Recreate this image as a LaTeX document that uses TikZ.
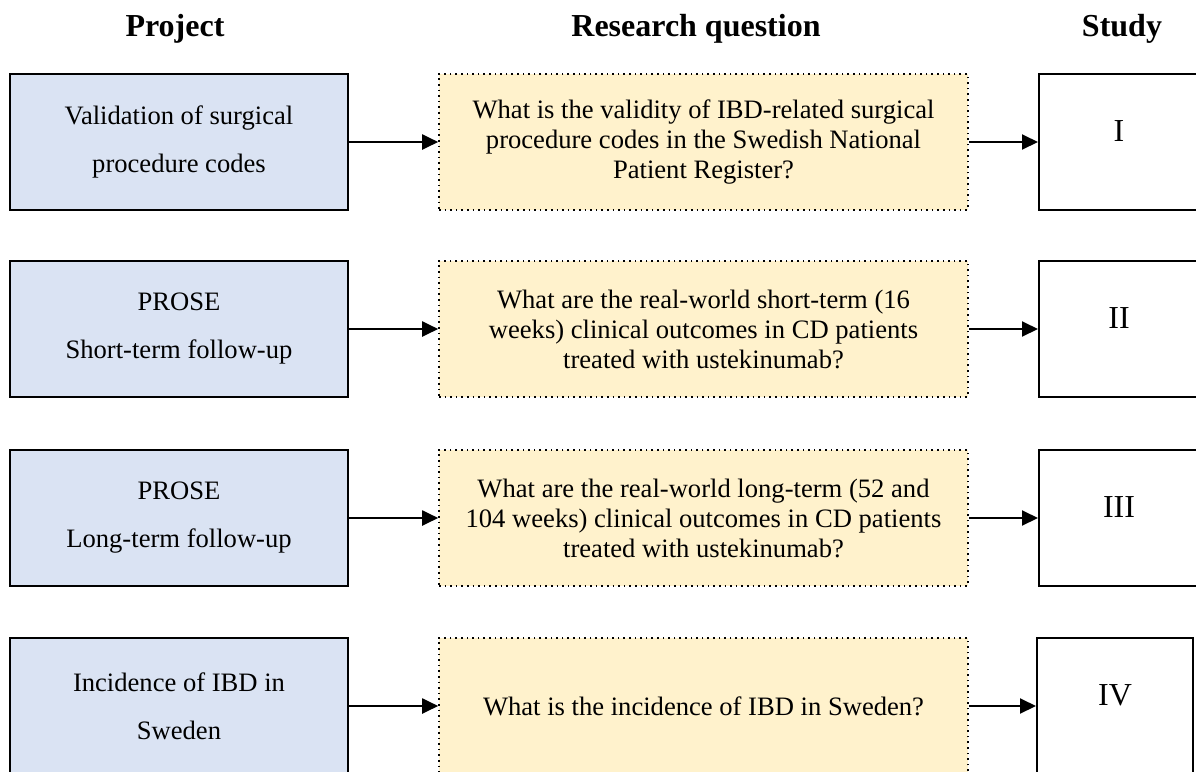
\documentclass[tikz,border=0pt]{standalone}
\usepackage{fontspec}
\setmainfont{Liberation Serif}
\usetikzlibrary{arrows.meta}
\usetikzlibrary{positioning}

\definecolor{projblue}{HTML}{DAE3F3}
\definecolor{questyellow}{HTML}{FFF2CC}

\begin{document}
\begin{tikzpicture}[x=0.5pt, y=-0.5pt,
  project/.style={draw=black, line width=1pt, fill=projblue,
    minimum width=169pt, minimum height=68pt, inner sep=0pt,
    align=center, font=\fontsize{13.3pt}{24pt}\selectfont},
  question/.style={draw=black, dotted, line width=0.8pt, fill=questyellow,
    minimum width=264.5pt, minimum height=68pt, inner sep=0pt,
    align=center, font=\fontsize{13.3pt}{15pt}\selectfont},
  study/.style={draw=black, line width=1pt, fill=white,
    minimum width=80pt, inner sep=0pt, text height=33.8pt, text depth=34.2pt,
    font=\fontsize{16pt}{18pt}\selectfont},
  header/.style={font=\bfseries\fontsize{16pt}{18pt}\selectfont},
  link/.style={line width=1pt, -{Triangle[length=8pt, width=7.5pt]}}]

\useasboundingbox (0,0) rectangle (1196,772);

\newcommand{\xProj}{179}    % centre of the project column
\newcommand{\xQuest}{703.5} % centre of the question column
\newcommand{\xStudy}{1119}  % centre of the study column

% column titles
\node[header] (hdrProject) at (175,29) {Project};
\node[header] (hdrQuestion) at (696,29) {Research question};
\node[header] (hdrStudy) at (1122,29) {Study};

% row 1
\node[project] (proj1) at (\xProj,142) {Validation of surgical\\procedure codes};
\node[question] (quest1) at (\xQuest,142) {What is the validity of IBD-related surgical\\procedure codes in the Swedish National\\Patient Register?};
\node[study] (study1) at (\xStudy,142) {I};

% row 2
\node[project] (proj2) at (\xProj,329) {PROSE\\Short-term follow-up};
\node[question] (quest2) at (\xQuest,329) {What are the real-world short-term (16\\weeks) clinical outcomes in CD patients\\treated with ustekinumab?};
\node[study] (study2) at (\xStudy,329) {II};

% row 3
\node[project] (proj3) at (\xProj,518) {PROSE\\Long-term follow-up};
\node[question] (quest3) at (\xQuest,518) {What are the real-world long-term (52 and\\104 weeks) clinical outcomes in CD patients\\treated with ustekinumab?};
\node[study] (study3) at (\xStudy,518) {III};

% row 4
\node[project] (proj4) at (\xProj,706) {Incidence of IBD in\\Sweden};
\node[question] (quest4) at (\xQuest,706) {What is the incidence of IBD in Sweden?};
\node[study, minimum width=78pt] (study4) at (1115,706) {IV};

\draw[link] (proj1) -- (quest1);
\draw[link] (quest1) -- (study1);
\draw[link] (proj2) -- (quest2);
\draw[link] (quest2) -- (study2);
\draw[link] (proj3) -- (quest3);
\draw[link] (quest3) -- (study3);
\draw[link] (proj4) -- (quest4);
\draw[link] (quest4) -- (study4);

\end{tikzpicture}
\end{document}
